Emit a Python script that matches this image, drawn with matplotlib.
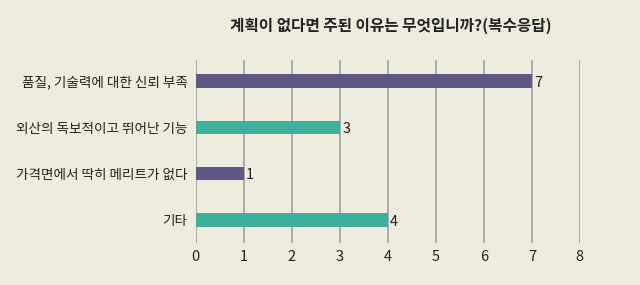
import matplotlib
matplotlib.use("Agg")
import matplotlib.pyplot as plt
import numpy as np

plt.rcParams['font.family'] = ['Noto Sans CJK KR', 'DejaVu Sans']

categories = ['품질, 기술력에 대한 신뢰 부족', '외산의 독보적이고 뛰어난 기능',
              '가격면에서 딱히 메리트가 없다', '기타']
values = [7, 3, 1, 4]
colors = ['#5f5885', '#3db09e', '#5f5885', '#3db09e']

bg = '#eeecdc'

def main():
    fig = plt.figure(figsize=(6.4, 2.85), dpi=100, facecolor=bg)
    ax = fig.add_axes([0.306, 0.147, 0.6, 0.642], facecolor=bg)

    y = np.arange(len(categories))
    ax.barh(y, values, height=0.29, color=colors, zorder=3)
    for yi, v in zip(y, values):
        ax.text(v + 0.05, yi + 0.04, str(v), va='center', ha='left', fontsize=10.5, color='#222222')

    ax.set_xlim(0, 8)
    ax.set_ylim(3.5, -0.45)
    ax.set_xticks(range(9))
    ax.set_yticks(y)
    ax.set_yticklabels(categories, fontsize=9.8, color='#222222')
    ax.tick_params(axis='both', length=0, pad=6, colors='#222222')
    ax.tick_params(axis='x', pad=5, labelsize=10.5)
    ax.xaxis.grid(True, color='#a0a0a8', linewidth=1.2, zorder=0)
    for s in ax.spines.values():
        s.set_visible(False)

    fig.text(0.61, 0.91, '계획이 없다면 주된 이유는 무엇입니까?(복수응답)',
             ha='center', va='center', fontsize=11.3, fontweight='bold', color='#222222')

    fig.savefig('out.png', dpi=100, facecolor=bg)
    plt.close(fig)


if __name__ == "__main__":
    main()
